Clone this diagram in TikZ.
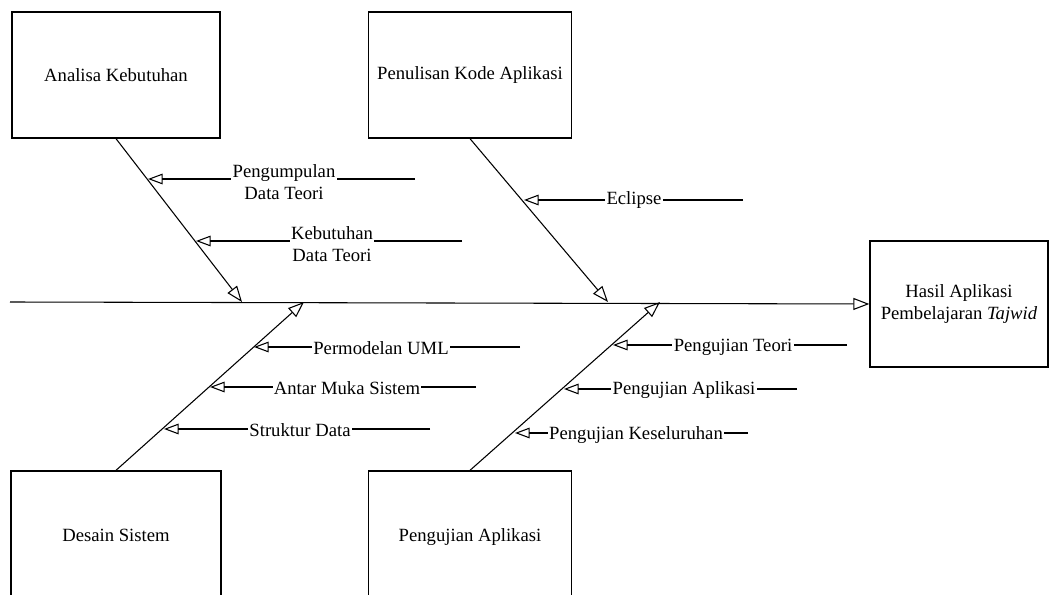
\documentclass[tikz,border=0pt]{standalone}
\usepackage{fontspec}
\setmainfont{Liberation Serif}
\usepackage{tikz}
\usetikzlibrary{arrows.meta}
\usetikzlibrary{positioning}
\tikzstyle{fishbox}=[draw=black, line width=1pt, rectangle, align=center, minimum height=94.5pt]
\tikzstyle{causetext}=[fill=white, inner sep=1pt, align=center]
\tikzstyle{bone}=[line width=0.8pt, -{Triangle[open, length=12pt, width=9pt]}]
\tikzstyle{subbone}=[line width=0.8pt, -{Triangle[open, length=11pt, width=8pt]}]

\begin{document}
\begin{tikzpicture}[x=0.75pt, y=-0.75pt, font=\fontsize{14}{16}\selectfont]
          \useasboundingbox (0,0) rectangle (1051,595);
          \clip (0,0) rectangle (1051,595);
          % kategori
          \node[fishbox, minimum width=156pt] (ak) at (116,75){Analisa Kebutuhan};
          \node[fishbox, minimum width=152.25pt] (pk) at (470,75){Penulisan Kode Aplikasi};
          \node[fishbox, minimum width=157.5pt, minimum height=96pt] (ds) at (116,535){Desain Sistem};
          \node[fishbox, minimum width=152.25pt, minimum height=96pt, text depth=0pt] (pa) at (470,535){Pengujian Aplikasi};
          \node[fishbox, minimum width=133.5pt] (hasil) at (959,304){Hasil Aplikasi\\Pembelajaran \textit{Tajwid}};
          % tulang utama
          \coordinate (spine) at (10,302);
          \coordinate (t1) at (242,302);
          \coordinate (t2) at (608,302);
          \coordinate (t3) at (304,302);
          \coordinate (t4) at (660,302);
          \draw[bone](spine) -- (hasil.west);
          \draw[bone](ak.south) -- (t1);
          \draw[bone](pk.south) -- (t2);
          \draw[bone](ds.north) -- (t3);
          \draw[bone](pa.north) -- (t4);
          % sebab
          \coordinate (c1) at (415,179);  \coordinate (b1) at (148,179);
          \coordinate (c2) at (462,241);  \coordinate (b2) at (196,241);
          \coordinate (c3) at (743,200);  \coordinate (b3) at (524,200);
          \coordinate (c4) at (520,347);  \coordinate (b4) at (254,347);
          \coordinate (c5) at (476,387);  \coordinate (b5) at (210,387);
          \coordinate (c6) at (430,429);  \coordinate (b6) at (164,429);
          \coordinate (c7) at (847,345);  \coordinate (b7) at (613,345);
          \coordinate (c8) at (797,389);  \coordinate (b8) at (564,389);
          \coordinate (c9) at (748,433);  \coordinate (b9) at (515,433);
          \draw[subbone](c1) -- (b1);
          \draw[subbone](c2) -- (b2);
          \draw[subbone](c3) -- (b3);
          \draw[subbone](c4) -- (b4);
          \draw[subbone](c5) -- (b5);
          \draw[subbone](c6) -- (b6);
          \draw[subbone](c7) -- (b7);
          \draw[subbone](c8) -- (b8);
          \draw[subbone](c9) -- (b9);
          \node[causetext] (l1) at (284,182){Pengumpulan\\Data Teori};
          \node[causetext] (l2) at (332,244){Kebutuhan\\Data Teori};
          \node[causetext] (l3) at (634,200){Eclipse};
          \node[causetext] (l4) at (381,348){Permodelan UML};
          \node[causetext] (l5) at (347,388){Antar Muka Sistem};
          \node[causetext] (l6) at (300,430){Struktur Data};
          \node[causetext] (l7) at (733,347){Pengujian Teori};
          \node[causetext] (l8) at (684,390){Pengujian Aplikasi};
          \node[causetext] (l9) at (636,435){Pengujian Keseluruhan};
\end{tikzpicture}
\end{document}
